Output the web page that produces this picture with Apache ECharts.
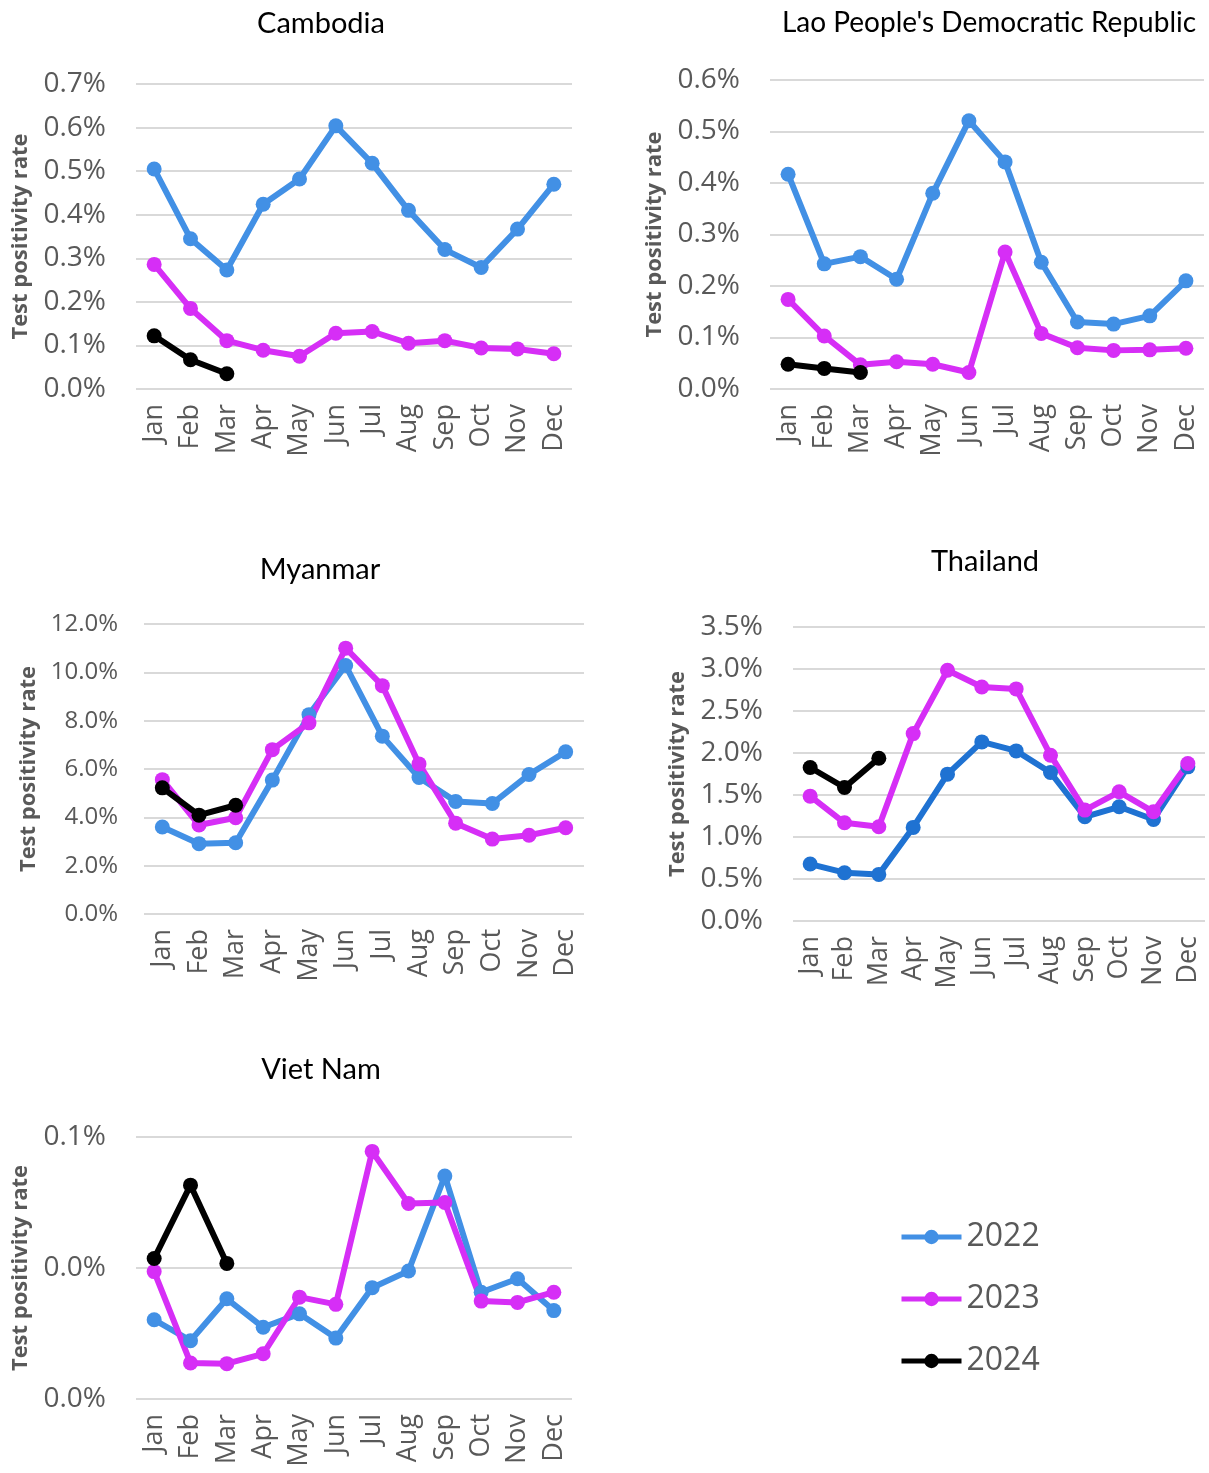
<!DOCTYPE html>
<html>
<head>
<meta charset="utf-8">
<script src="https://cdn.jsdelivr.net/npm/echarts@6/dist/echarts.min.js"></script>
<style>
  html, body { margin: 0; padding: 0; background: #fff; }
  #chart { width: 1209px; height: 1473px; }
</style>
</head>
<body>
<div id="chart"></div>
<script>
// months on every x axis
const months = ['Jan', 'Feb', 'Mar', 'Apr', 'May', 'Jun', 'Jul', 'Aug', 'Sep', 'Oct', 'Nov', 'Dec'];
const years = ['2022', '2023', '2024'];

// test positivity rate, in percent
const cambodia2022 = [0.505, 0.345, 0.273, 0.424, 0.482, 0.604, 0.518, 0.410, 0.320, 0.279, 0.367, 0.470];
const cambodia2023 = [0.286, 0.185, 0.111, 0.089, 0.075, 0.128, 0.132, 0.105, 0.111, 0.094, 0.092, 0.081];
const cambodia2024 = [0.122, 0.067, 0.035];

const lao2022 = [0.417, 0.243, 0.257, 0.213, 0.380, 0.521, 0.441, 0.246, 0.130, 0.126, 0.142, 0.210];
const lao2023 = [0.174, 0.103, 0.047, 0.053, 0.048, 0.032, 0.266, 0.108, 0.080, 0.075, 0.076, 0.079];
const lao2024 = [0.048, 0.040, 0.032];

const myanmar2022 = [3.60, 2.91, 2.95, 5.54, 8.25, 10.28, 7.36, 5.65, 4.66, 4.57, 5.77, 6.71];
const myanmar2023 = [5.56, 3.68, 3.98, 6.80, 7.91, 11.00, 9.45, 6.21, 3.76, 3.10, 3.26, 3.57];
const myanmar2024 = [5.22, 4.09, 4.50];

const thailand2022 = [0.678, 0.575, 0.555, 1.114, 1.748, 2.132, 2.025, 1.768, 1.241, 1.360, 1.209, 1.835];
const thailand2023 = [1.486, 1.169, 1.122, 2.231, 2.985, 2.786, 2.763, 1.974, 1.320, 1.538, 1.300, 1.875];
const thailand2024 = [1.827, 1.589, 1.938];

const vietnam2022 = [0.0242, 0.0178, 0.0306, 0.0219, 0.0260, 0.0186, 0.0340, 0.0391, 0.0681, 0.0326, 0.0367, 0.0270];
const vietnam2023 = [0.0389, 0.0110, 0.0108, 0.0138, 0.0311, 0.0289, 0.0756, 0.0597, 0.0600, 0.0299, 0.0295, 0.0326];
const vietnam2024 = [0.0429, 0.0653, 0.0414];

const panels = [
  { title: 'Cambodia', tx: 316, ty: 4, titleSize: 29, grid: [136, 84, 436, 305], max: 0.7, step: 0.1, labelSize: 28, labelGap: 30, data: [cambodia2022, cambodia2023, cambodia2024] },
  { title: "Lao People's Democratic Republic", tx: 984, ty: 4, titleSize: 28, grid: [770, 80, 434, 309], max: 0.6, step: 0.1, labelSize: 28, labelGap: 30, data: [lao2022, lao2023, lao2024] },
  { title: 'Myanmar', tx: 315, ty: 550, titleSize: 29, grid: [144, 624, 440, 290], max: 12, step: 2, labelSize: 24, labelGap: 26, data: [myanmar2022, myanmar2023, myanmar2024] },
  { title: 'Thailand', tx: 980, ty: 542, titleSize: 29, grid: [793, 627, 412, 294], max: 3.5, step: 0.5, labelSize: 28, labelGap: 30, data: [thailand2022, thailand2023, thailand2024], blue: '#1f72d2' },
  { title: 'Viet Nam', tx: 316, ty: 1050, titleSize: 29, grid: [136, 1137, 436, 262], max: 0.08, step: 0.04, labelSize: 28, labelGap: 30, data: [vietnam2022, vietnam2023, vietnam2024] }
];

const colors = ['#4290e5', '#d62ef6', '#000000'];
const grey = '#595959';

const chart = echarts.init(document.getElementById('chart'), null, { renderer: 'canvas' });

const title = [], grid = [], xAxis = [], yAxis = [], series = [];
panels.forEach((p, i) => {
  title.push({
    text: p.title, left: p.tx, top: p.ty, textAlign: 'center',
    textStyle: { fontFamily: 'Lato', fontSize: p.titleSize, fontWeight: 'normal', color: '#000' }
  });
  grid.push({ left: p.grid[0], top: p.grid[1], width: p.grid[2], height: p.grid[3] });
  xAxis.push({
    type: 'category', gridIndex: i, data: months,
    axisLine: { show: false }, axisTick: { show: false },
    axisLabel: { rotate: 90, margin: 15, fontFamily: 'Open Sans', fontSize: 27, color: grey, interval: 0 }
  });
  yAxis.push({
    type: 'value', gridIndex: i, min: 0, max: p.max, interval: p.step,
    name: 'Test positivity rate', nameLocation: 'middle', nameRotate: 90, nameGap: 104,
    nameTextStyle: { fontFamily: 'Open Sans', fontSize: 22, fontWeight: 'bold', color: grey },
    axisLine: { show: false }, axisTick: { show: false },
    axisLabel: { margin: p.labelGap, fontFamily: 'Open Sans', fontSize: p.labelSize, color: grey, formatter: v => v.toFixed(1) + '%' },
    splitLine: { lineStyle: { color: '#d9d9d9', width: 2 } }
  });
  p.data.forEach((vals, k) => {
    const c = (k === 0 && p.blue) ? p.blue : colors[k];
    series.push({
      name: years[k], type: 'line', xAxisIndex: i, yAxisIndex: i, data: vals,
      symbol: 'circle', symbolSize: 15,
      lineStyle: { width: 6, color: c }, itemStyle: { color: c },
      animation: false
    });
  });
});

const option = {
  animation: false,
  title: title,
  grid: grid,
  xAxis: xAxis,
  yAxis: yAxis,
  legend: {
    data: years, orient: 'vertical', left: 894, top: 1215,
    itemWidth: 60, itemHeight: 18, itemGap: 28,
    lineStyle: { width: 5 },
    textStyle: { fontFamily: 'Open Sans', fontSize: 32, color: grey, lineHeight: 34 }
  },
  series: series
};
chart.setOption(option);
</script>
</body>
</html>
